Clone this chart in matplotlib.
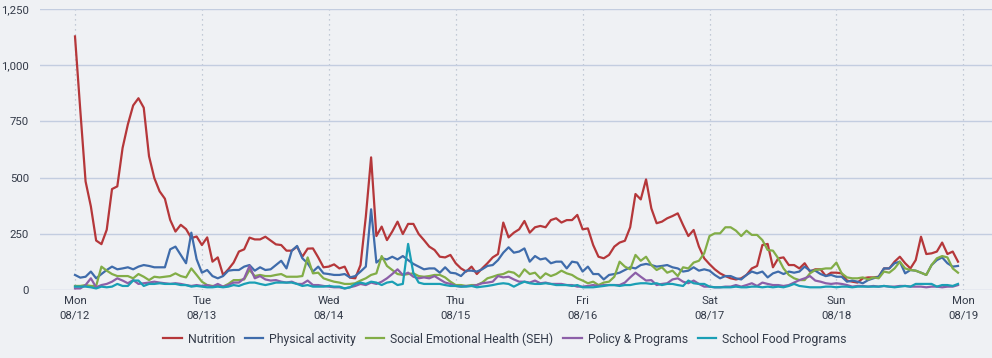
import matplotlib
matplotlib.use("Agg")
import matplotlib.pyplot as plt
from matplotlib.ticker import FuncFormatter

# hourly counts, Mon 08/12 00:00 .. Sun 08/18 23:00 (one row per day)
nutrition = [
    1128, 800, 483, 372, 220, 204, 268, 449, 461, 632, 737, 821, 853, 811, 595, 498, 439, 406, 312, 260, 290, 271, 231, 238,
    200, 234, 126, 145, 67, 92, 122, 171, 181, 233, 225, 225, 237, 220, 203, 200, 175, 175, 193, 148, 184, 185, 145, 101,
    104, 114, 96, 104, 55, 52, 111, 326, 590, 240, 282, 222, 260, 304, 249, 294, 294, 249, 222, 193, 178, 148, 145, 156,
    119, 96, 82, 104, 71, 96, 119, 145, 160, 300, 234, 255, 270, 307, 255, 279, 285, 279, 311, 319, 300, 311, 311, 334,
    270, 274, 200, 148, 141, 156, 193, 211, 219, 279, 427, 403, 492, 363, 297, 304, 319, 329, 341, 289, 240, 267, 193, 141,
    115, 92, 74, 62, 52, 47, 52, 67, 96, 107, 200, 205, 101, 141, 145, 111, 111, 96, 119, 82, 92, 92, 62, 77,
    77, 74, 42, 37, 33, 52, 56, 56, 59, 96, 96, 126, 148, 119, 96, 133, 237, 160, 163, 171, 211, 160, 171, 126,
]
physical = [
    67, 55, 59, 82, 52, 71, 89, 104, 92, 96, 101, 92, 104, 111, 107, 101, 101, 101, 181, 193, 156, 119, 255, 137,
    77, 89, 62, 52, 62, 86, 89, 89, 104, 111, 86, 101, 89, 92, 111, 130, 96, 175, 196, 141, 119, 82, 104, 74,
    71, 67, 67, 71, 56, 62, 82, 104, 359, 122, 141, 136, 148, 136, 151, 133, 116, 104, 92, 96, 96, 77, 101, 77,
    74, 62, 86, 86, 82, 92, 107, 111, 133, 166, 190, 166, 171, 185, 126, 151, 136, 141, 119, 126, 126, 96, 126, 122,
    82, 104, 71, 71, 47, 67, 71, 77, 89, 101, 96, 111, 116, 111, 104, 107, 111, 101, 96, 82, 86, 101, 86, 92,
    86, 67, 52, 62, 62, 52, 47, 67, 82, 74, 82, 56, 74, 82, 71, 82, 77, 82, 104, 86, 86, 71, 62, 67,
    59, 59, 37, 42, 37, 30, 44, 52, 59, 96, 96, 119, 126, 74, 89, 86, 77, 67, 111, 133, 145, 119, 104, 107,
]
seh = [
    18, 18, 22, 18, 18, 104, 86, 71, 62, 62, 62, 52, 71, 59, 44, 59, 56, 59, 62, 74, 62, 56, 96, 67,
    37, 22, 18, 18, 15, 27, 44, 44, 47, 89, 62, 67, 62, 62, 67, 71, 59, 59, 59, 62, 145, 74, 77, 52,
    44, 37, 33, 27, 27, 30, 42, 52, 67, 74, 151, 107, 89, 71, 67, 71, 74, 62, 59, 62, 67, 67, 56, 37,
    22, 22, 18, 22, 22, 33, 52, 59, 67, 71, 82, 77, 59, 92, 71, 77, 52, 74, 62, 71, 86, 74, 67, 52,
    42, 30, 37, 22, 33, 37, 59, 126, 104, 92, 156, 130, 148, 111, 89, 101, 77, 86, 62, 101, 96, 122, 130, 163,
    240, 252, 252, 279, 279, 264, 240, 264, 245, 245, 222, 178, 175, 141, 96, 67, 52, 44, 44, 74, 89, 92, 96, 96,
    122, 74, 56, 52, 52, 56, 47, 56, 52, 82, 77, 96, 126, 96, 89, 86, 77, 67, 111, 141, 151, 145, 96, 77,
]
policy = [
    7, 7, 22, 52, 12, 22, 27, 37, 52, 42, 30, 44, 27, 30, 33, 37, 33, 30, 27, 30, 27, 22, 18, 22,
    18, 22, 15, 27, 15, 22, 33, 33, 52, 107, 52, 62, 47, 42, 44, 37, 33, 37, 27, 27, 42, 22, 22, 18,
    15, 12, 12, 7, 12, 18, 27, 22, 33, 27, 37, 52, 71, 92, 67, 77, 59, 52, 56, 52, 62, 47, 33, 27,
    18, 15, 18, 18, 22, 30, 33, 37, 62, 56, 59, 47, 37, 37, 33, 42, 30, 33, 27, 27, 27, 22, 22, 15,
    15, 18, 22, 18, 22, 22, 22, 22, 33, 56, 77, 59, 42, 44, 22, 27, 30, 47, 52, 37, 30, 42, 27, 15,
    15, 12, 12, 15, 15, 22, 15, 22, 30, 18, 33, 27, 22, 22, 18, 22, 33, 44, 52, 62, 42, 37, 30, 27,
    30, 27, 22, 15, 18, 18, 15, 18, 15, 18, 15, 15, 18, 18, 15, 15, 15, 12, 15, 15, 12, 15, 15, 22,
]
school_food = [
    15, 15, 15, 12, 7, 15, 12, 15, 27, 18, 18, 42, 42, 18, 27, 27, 30, 27, 27, 27, 22, 22, 15, 18,
    15, 12, 12, 15, 12, 15, 22, 18, 27, 33, 33, 27, 22, 27, 33, 33, 33, 33, 27, 18, 22, 15, 15, 15,
    18, 15, 15, 7, 12, 27, 33, 27, 37, 33, 22, 33, 37, 22, 27, 205, 74, 33, 27, 27, 27, 27, 22, 18,
    18, 15, 15, 18, 12, 15, 18, 22, 27, 30, 27, 15, 27, 37, 30, 27, 27, 30, 27, 22, 22, 22, 18, 22,
    12, 12, 12, 15, 18, 22, 22, 18, 22, 22, 27, 30, 30, 27, 30, 22, 27, 27, 22, 18, 42, 30, 27, 27,
    15, 12, 12, 12, 12, 15, 12, 12, 15, 15, 12, 15, 12, 15, 12, 18, 27, 18, 15, 12, 12, 12, 15, 15,
    12, 15, 15, 12, 15, 15, 15, 15, 15, 18, 15, 12, 15, 18, 15, 27, 27, 27, 27, 15, 22, 22, 18, 27,
]

series_names = ["Nutrition", "Physical activity", "Social Emotional Health (SEH)",
                "Policy & Programs", "School Food Programs"]
colors = ["#b5373a", "#3f6cab", "#82ad47", "#8c5fa8", "#1a9fb5"]
day_names = ["Mon", "Tue", "Wed", "Thu", "Fri", "Sat", "Sun", "Mon"]
day_dates = ["08/12", "08/13", "08/14", "08/15", "08/16", "08/17", "08/18", "08/19"]
y_ticks = [0, 250, 500, 750, 1000, 1250]

plt.rcParams['font.family'] = ['Roboto', 'DejaVu Sans']
bg = "#eff1f4"
text_col = "#333a48"

fig = plt.figure(figsize=(9.92, 3.58), dpi=100, facecolor=bg)
ax = fig.add_axes([40 / 992, 68 / 358, 952 / 992, 281 / 358])
ax.set_facecolor(bg)

hours = list(range(len(nutrition)))
all_series = [nutrition, physical, seh, policy, school_food]
for name, vals, c in zip(series_names, all_series, colors):
    ax.plot(hours, vals, color=c, lw=1.6, label=name, solid_joinstyle='round')

ax.set_ylim(0, 1250)
ax.set_xlim(-35 / 5.2875, 917 / 5.2875)
ax.set_yticks(y_ticks)
ax.yaxis.set_major_formatter(FuncFormatter(lambda v, p: f"{v:,.0f}"))
ax.grid(axis='y', color="#c3cde0", lw=1, ls='-')
ax.set_axisbelow(True)

day_pos = [24 * i for i in range(len(day_names))]
for xp in day_pos:
    ax.axvline(xp, color="#b3bccc", lw=0.9, ls=(0, (1, 3)), zorder=0)
ax.set_xticks(day_pos)
ax.set_xticklabels([f"{d}\n{t}" for d, t in zip(day_names, day_dates)], linespacing=1.65)

for s in ax.spines.values():
    s.set_visible(False)
ax.tick_params(axis='both', length=0, labelsize=8.2, colors=text_col)
ax.tick_params(axis='x', pad=4)
ax.tick_params(axis='y', pad=8)

fig.legend(loc='center', bbox_to_anchor=(505 / 992, 1 - 339 / 358), ncol=5, frameon=False,
           fontsize=8.8, handlelength=1.5, handletextpad=0.5, columnspacing=0.8,
           labelcolor=text_col)

fig.savefig("out.png", dpi=100, facecolor=bg)
